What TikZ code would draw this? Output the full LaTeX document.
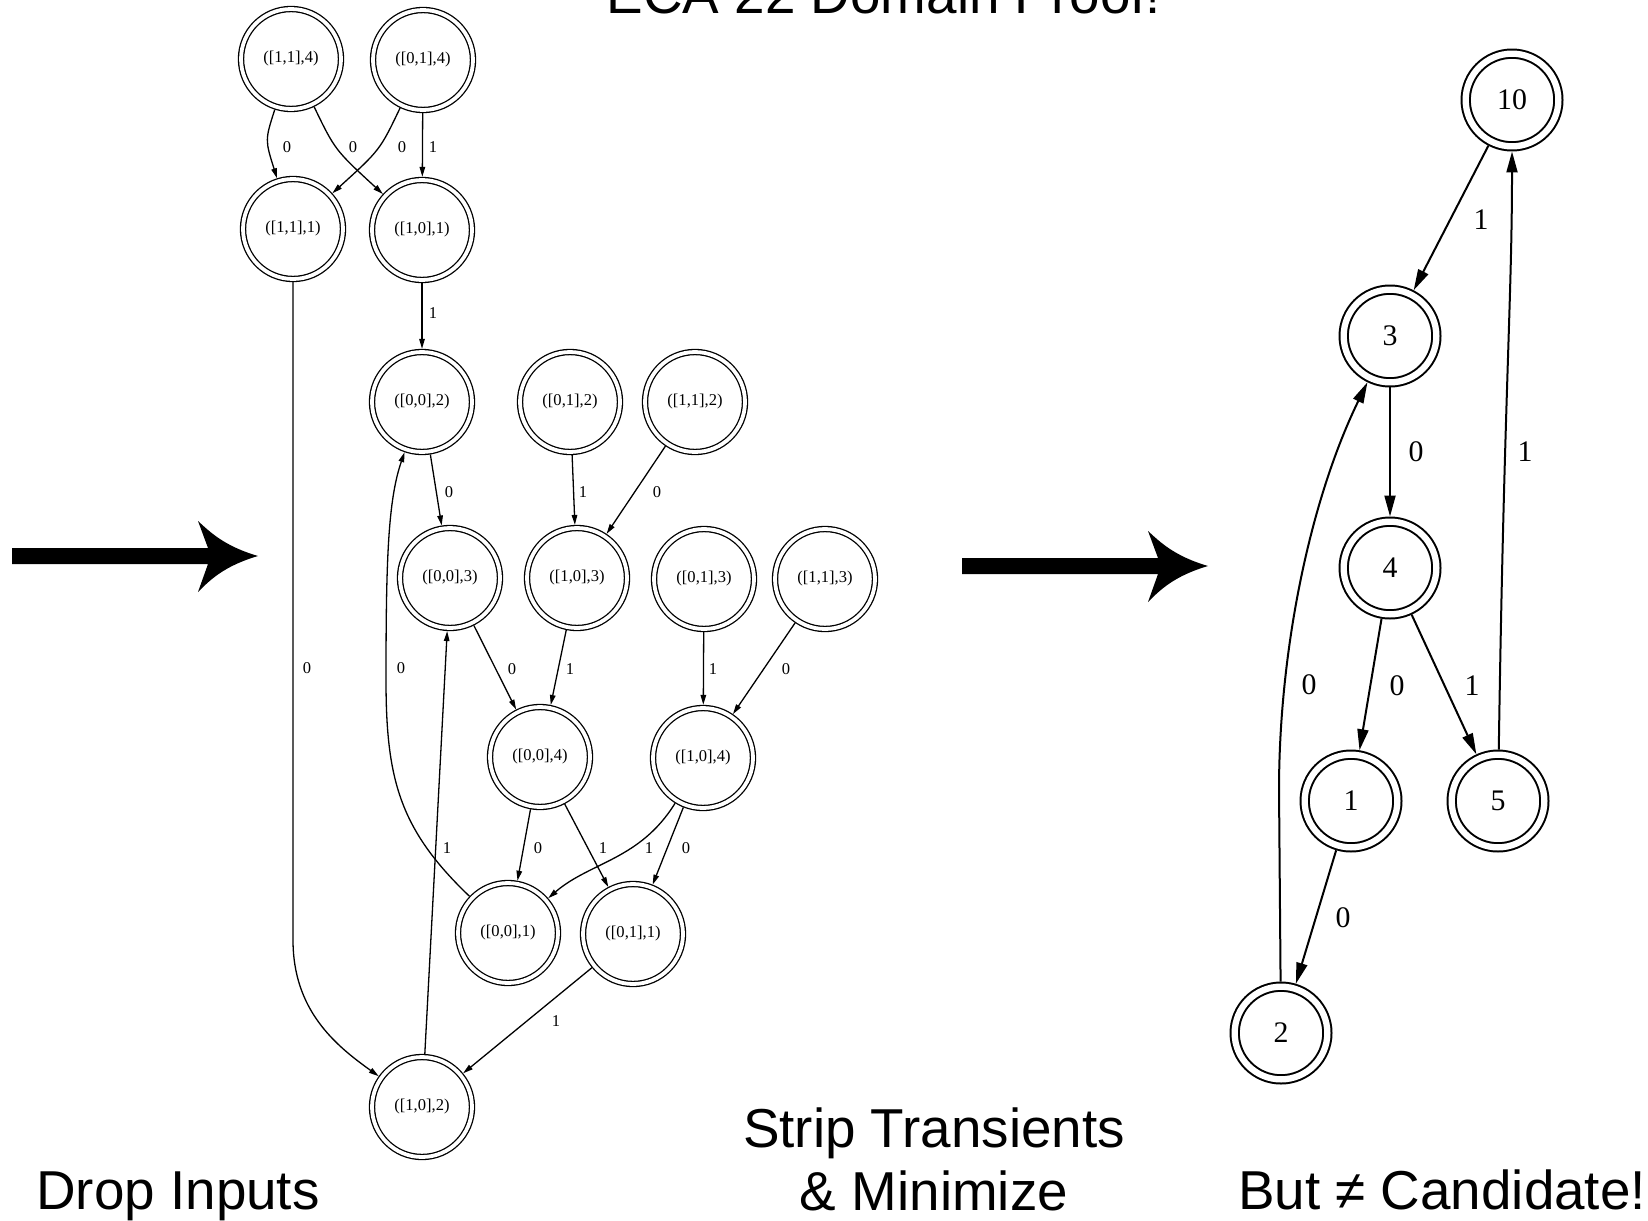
\documentclass[tikz,border=0pt]{standalone}
\usepackage{fontspec}
\setmainfont{Liberation Serif}
\setsansfont{Liberation Sans}
\usetikzlibrary{arrows.meta}

\begin{document}
\begin{tikzpicture}[x=0.02cm, y=-0.02cm,
      lstate/.style={circle, draw, double, line width=0.026cm, double distance=0.076cm, minimum size=2.0cm, inner sep=0pt, outer sep=0.063cm, font=\fontsize{9.4}{11}\selectfont},
      rstate/.style={circle, draw, double, line width=0.04cm, double distance=0.126cm, minimum size=1.854cm, inner sep=0pt, outer sep=0.103cm, font=\fontsize{17}{20}\selectfont},
      trans/.style={-{Triangle[length=0.2cm, width=0.11cm]}, line width=0.026cm},
      rtrans/.style={-{Triangle[length=0.42cm, width=0.22cm]}, line width=0.04cm},
      lbl/.style={font=\fontsize{9.4}{11}\selectfont, inner sep=0pt},
      rlbl/.style={font=\fontsize{17}{20}\selectfont, inner sep=0pt},
      bigtext/.style={font=\sffamily\fontsize{31.2}{35.7}\selectfont, inner sep=0pt, align=center}]

      \useasboundingbox (0,0) rectangle (1648,1220);

      % Title, cut at the top
      \node[bigtext, anchor=base] (title) at (884,14) {ECA 22 Domain Proof!};

      % Automaton with inputs dropped
      \node[lstate] (n114) at (291,59) {([1,1],4)};
      \node[lstate] (n014) at (423,60) {([0,1],4)};
      \node[lstate] (n111) at (293,229) {([1,1],1)};
      \node[lstate] (n101) at (422,230) {([1,0],1)};
      \node[lstate] (n002) at (422,402) {([0,0],2)};
      \node[lstate] (n012) at (570,402) {([0,1],2)};
      \node[lstate] (n112) at (695,402) {([1,1],2)};
      \node[lstate] (n003) at (450,578) {([0,0],3)};
      \node[lstate] (n103) at (577,578) {([1,0],3)};
      \node[lstate] (n013) at (704,579) {([0,1],3)};
      \node[lstate] (n113) at (825,579) {([1,1],3)};
      \node[lstate] (n004) at (540,757) {([0,0],4)};
      \node[lstate] (n104) at (703,758) {([1,0],4)};
      \node[lstate] (n001) at (508,933) {([0,0],1)};
      \node[lstate] (n011) at (633,934) {([0,1],1)};
      \node[lstate] (n102) at (422,1107) {([1,0],2)};

      \draw[trans] (n114) .. controls (265,140) .. (n111) node[lbl] (t1) at (287,147) {0};
      \draw[trans] (n114) .. controls (335,150) .. (n101) node[lbl] (t2) at (353,147) {0};
      \draw[trans] (n014) .. controls (380,150) .. (n111) node[lbl] (t3) at (402,147) {0};
      \draw[trans] (n014) -- (n101) node[lbl] (t4) at (433,147) {1};
      \draw[trans] (n101) -- (n002) node[lbl] (t5) at (433,313) {1};
      \draw[trans] (n002) -- (n003) node[lbl] (t6) at (449,492) {0};
      \draw[trans] (n012) -- (n103) node[lbl] (t7) at (583,492) {1};
      \draw[trans] (n112) -- (n103) node[lbl] (t8) at (657,492) {0};
      \draw[trans] (n003) -- (n004) node[lbl] (t9) at (512,669) {0};
      \draw[trans] (n103) -- (n004) node[lbl] (t10) at (570,669) {1};
      \draw[trans] (n013) -- (n104) node[lbl] (t11) at (713,669) {1};
      \draw[trans] (n113) -- (n104) node[lbl] (t12) at (786,669) {0};
      \draw[trans] (n004) -- (n001) node[lbl] (t13) at (538,848) {0};
      \draw[trans] (n004) -- (n011) node[lbl] (t14) at (603,848) {1};
      \draw[trans] (n104) .. controls (640,860) and (590,862) .. (n001) node[lbl] (t15) at (649,848) {1};
      \draw[trans] (n104) -- (n011) node[lbl] (t16) at (686,848) {0};
      \draw[trans] (n001) .. controls (400,830) and (386,780) .. (386,680) .. controls (386,560) and (388,500) .. (n002) node[lbl] (t17) at (401,668) {0};
      \draw[trans] (n102) -- (n003) node[lbl] (t18) at (447,848) {1};
      \draw[trans] (n111) -- (293,940) .. controls (293,1010) and (335,1045) .. (n102) node[lbl] (t19) at (307,668) {0};
      \draw[trans] (n011) -- (n102) node[lbl] (t20) at (556,1021) {1};

      % Minimized automaton
      \node[rstate] (r10) at (1512,100) {10};
      \node[rstate] (r3) at (1390,336) {3};
      \node[rstate] (r4) at (1390,568) {4};
      \node[rstate] (r1) at (1351,801) {1};
      \node[rstate] (r5) at (1498,801) {5};
      \node[rstate] (r2) at (1281,1033) {2};

      \draw[rtrans] (r10) -- (r3) node[rlbl] (u1) at (1481,220) {1};
      \draw[rtrans] (r3) -- (r4) node[rlbl] (u2) at (1416,452) {0};
      \draw[rtrans] (r4) -- (r1) node[rlbl] (u3) at (1397,686) {0};
      \draw[rtrans] (r4) -- (r5) node[rlbl] (u4) at (1472,686) {1};
      \draw[rtrans] (r1) -- (r2) node[rlbl] (u5) at (1343,918) {0};
      \draw[rtrans] (r5) .. controls (1504,400) and (1512,300) .. (r10) node[rlbl] (u6) at (1525,452) {1};
      \draw[rtrans] (r2) -- (1279,790) .. controls (1279,650) and (1310,500) .. (r3) node[rlbl] (u7) at (1309,685) {0};

      % Big arrows between the steps
      \foreach \ax/\ay in {12/556, 962/566} {
        \fill[shift={(\ax,\ay)}] (0,-8) -- (196,-8) -- (186,-35)
          .. controls (198,-24) and (212,-10) .. (246,0)
          .. controls (212,10) and (198,24) .. (186,36) -- (196,8) -- (0,8) -- cycle;
      }

      % Captions
      \node[bigtext, anchor=base] (drop) at (178,1209) {Drop Inputs};
      \node[bigtext, anchor=base] (strip) at (934,1210) {Strip Transients\\\& Minimize};
      \node[bigtext, anchor=base] (but) at (1442,1209) {But ≠ Candidate!};
\end{tikzpicture}
\end{document}
